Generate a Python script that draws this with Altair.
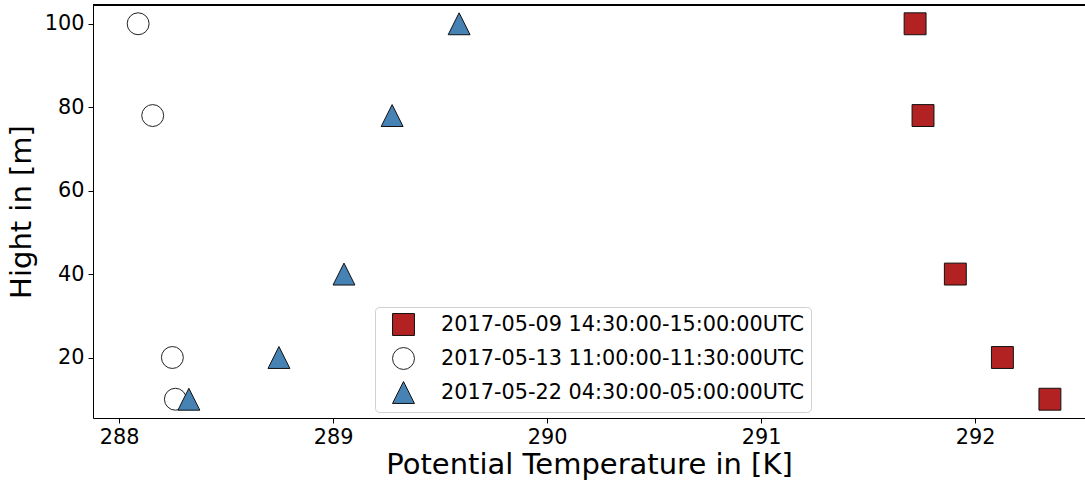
import altair as alt
import pandas as pd

series = ["2017-05-09 14:30:00-15:00:00UTC",
          "2017-05-13 11:00:00-11:30:00UTC",
          "2017-05-22 04:30:00-05:00:00UTC"]

sq_height = [100, 78, 40, 20, 10]
sq_temp = [291.720, 291.757, 291.908, 292.128, 292.350]

ci_height = [100, 78, 20, 10]
ci_temp = [288.089, 288.157, 288.249, 288.263]

tr_height = [100, 78, 40, 20, 10]
tr_temp = [289.589, 289.276, 289.051, 288.747, 288.326]

rows = []
for h, t in zip(sq_height, sq_temp):
    rows.append({"series": series[0], "temp": t, "height": h})
for h, t in zip(ci_height, ci_temp):
    rows.append({"series": series[1], "temp": t, "height": h})
for h, t in zip(tr_height, tr_temp):
    rows.append({"series": series[2], "temp": t, "height": h})
df = pd.DataFrame(rows)

W, H = 992, 413
FONT = "DejaVu Sans"
TRI = "M0,-1L-1,1L1,1Z"

leg = alt.Legend(title=None, orient="none", legendX=282, legendY=302,
                 symbolStrokeWidth=1, symbolSize=480, symbolOpacity=1)

points = alt.Chart(df).mark_point(
    filled=True, size=480, strokeWidth=1, opacity=1
).encode(
    x=alt.X("temp:Q", scale=alt.Scale(domain=[287.878, 292.514], nice=False, zero=False),
            axis=alt.Axis(values=[288, 289, 290, 291, 292], format="d",
                          title="Potential Temperature in [K]")),
    y=alt.Y("height:Q", scale=alt.Scale(domain=[5.5, 104.5], nice=False, zero=False),
            axis=alt.Axis(values=[20, 40, 60, 80, 100], format="d",
                          title="Hight in [m]")),
    fill=alt.Fill("series:N", scale=alt.Scale(domain=series,
                  range=["#B22222", "#ffffff", "#4682B4"]), legend=leg),
    stroke=alt.Stroke("series:N", scale=alt.Scale(domain=series,
                      range=["#111111", "#222222", "#111111"]), legend=leg),
    shape=alt.Shape("series:N", scale=alt.Scale(domain=series,
                    range=["square", "circle", TRI]), legend=leg),
)

top = alt.Chart(df).mark_rule(color="#000000", strokeWidth=1).encode(
    x=alt.value(0), x2=alt.value(W), y=alt.value(0)
)

chart = alt.layer(points, top).properties(
    width=W, height=H,
    autosize=alt.AutoSizeParams(type="none"),
    padding={"left": 93, "top": 5, "right": 0, "bottom": 66},
).configure_view(stroke=None).configure_axis(
    grid=False, domainColor="#000000", domainWidth=1, tickColor="#000000",
    tickSize=5, labelPadding=4, labelFont=FONT, labelFontSize=20.8,
    labelColor="#000000", titleFont=FONT, titleFontSize=29, titleFontWeight="normal",
    titleColor="#000000",
).configure_axisY(titlePadding=8).configure_axisX(titlePadding=4).configure_legend(
    labelFont=FONT, labelFontSize=20.8, labelColor="#000000",
    fillColor="#ffffff", strokeColor="#d0d0d0", cornerRadius=4, padding=6,
    rowPadding=7, symbolOffset=11, labelOffset=26, labelLimit=0,
)

chart.save("out.html", embed_options={"renderer": "svg", "actions": False})
